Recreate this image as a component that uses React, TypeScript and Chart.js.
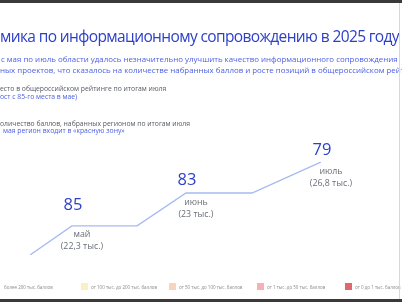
import React, { useEffect, useRef } from "react";
import { Chart, registerables } from "chart.js";

Chart.register(...registerables);

// ---- data ----
const months = ["май", "июнь", "июль"];
const ranks = [85, 83, 79];
const pointsThousands = ["22,3", "23", "26,8"];
// decorative stepped path (timeline position, level)
const stepX = [0, 14.4, 36.8, 53.6, 76.3, 100];
const stepY = [0, 0.94, 0.94, 2, 2, 3];
// which path vertex each month is anchored to
const monthAnchor = [1, 3, 5];

const legendLabels = [
  "более 200 тыс. баллов",
  "от 100 тыс. до 200 тыс. баллов",
  "от 50 тыс. до 100 тыс. баллов",
  "от 1 тыс. до 50 тыс. баллов",
  "от 0 до 1 тыс. баллов",
];
const legendColors = ["#ffffff", "#fbefc4", "#f8d4bf", "#f6b0b6", "#e1676f"];

const BLUE = "#2d40c9";
const BLUE2 = "#4b5ee2";
const GRAY = "#555a63";

const labelsPlugin = {
  id: "stepLabels",
  afterDatasetsDraw(chart: any) {
    const ctx = chart.ctx;
    const meta = chart.getDatasetMeta(0);
    const rankDy = [-21, -13, -12];
    ctx.save();
    ctx.textAlign = "center";
    ctx.textBaseline = "middle";
    months.forEach((m, i) => {
      const p = meta.data[monthAnchor[i]];
      ctx.fillStyle = BLUE;
      ctx.font = "16.5px 'Open Sans'";
      ctx.fillText(String(ranks[i]), p.x + 1, p.y + rankDy[i]);
      ctx.fillStyle = "#6b6f78";
      ctx.font = "8.8px 'Open Sans'";
      ctx.fillText(m, p.x + 10, p.y + 9);
      ctx.fillText("(" + pointsThousands[i] + " тыс.)", p.x + 10, p.y + 21);
    });
    ctx.restore();
  },
};

function ChartCanvas() {
  const ref = useRef<HTMLCanvasElement>(null);
  useEffect(() => {
    if (!ref.current) return;
    const chart = new Chart(ref.current, {
      type: "line",
      data: {
        datasets: [
          {
            data: stepX.map((x, i) => ({ x, y: stepY[i] })),
            borderColor: "#a6baf0",
            borderWidth: 1.3,
            pointRadius: 0,
            fill: false,
            tension: 0,
          },
        ],
      },
      options: {
        animation: false,
        responsive: false,
        layout: { padding: { left: 30, right: 81, top: 162, bottom: 47 } },
        plugins: { legend: { display: false }, tooltip: { enabled: false } },
        scales: {
          x: { type: "linear", min: 0, max: 100, display: false },
          y: { type: "linear", min: 0, max: 3, display: false },
        },
      },
      plugins: [labelsPlugin],
    });
    return () => chart.destroy();
  }, []);
  return (
    <canvas
      ref={ref}
      width={402}
      height={302}
      style={{ position: "absolute", left: 0, top: 0, width: 402, height: 302 }}
    />
  );
}

const txt = (
  left: number,
  top: number,
  size: number,
  color: string,
  text: string,
  extra: any = {}
) => (
  <div
    style={{
      position: "absolute",
      left,
      top,
      fontSize: size,
      lineHeight: 1,
      color,
      whiteSpace: "nowrap",
      fontFamily: "'Open Sans', sans-serif",
      ...extra,
    }}
  >
    {text}
  </div>
);

export default function App() {
  const legendX = [-6, 81, 169, 257, 345];
  return (
    <div
      style={{
        position: "fixed",
        left: 0,
        top: 0,
        width: 402,
        height: 302,
        overflow: "hidden",
        background: "#ffffff",
      }}
    >
      <ChartCanvas />
      {txt(0, 29, 15.5, BLUE, "мика по информационному сопровождению в 2025 году", { letterSpacing: -0.62 })}
      {txt(1, 56, 7.9, BLUE2, "с мая по июль области удалось незначительно улучшить качество информационного сопровождения")}
      {txt(0, 66.5, 7.9, BLUE2, "ных проектов, что сказалось на количестве набранных баллов и росте позиций в общероссийском рейтинге")}
      {txt(0, 86, 6.8, GRAY, "есто в общероссийском рейтинге по итогам июля")}
      {txt(0, 94, 6.8, BLUE2, "ост с 85-го места в мае)")}
      {txt(0, 121, 6.8, GRAY, "оличество баллов, набранных регионом по итогам июля")}
      {txt(3, 128, 6.8, BLUE2, "мая регион входит в «красную зону»")}
      {legendLabels.map((l, i) => (
        <React.Fragment key={i}>
          {i > 0 && (
            <div
              style={{
                position: "absolute",
                left: legendX[i],
                top: 283,
                width: 7,
                height: 7,
                background: legendColors[i],
              }}
            />
          )}
          {txt(legendX[i] + 10, 284.5, 4.5, "#8a8a8a", l)}
        </React.Fragment>
      ))}
      <div style={{ position: "absolute", left: 0, top: 0, width: 402, height: 3, background: "#3a3a3a" }} />
      <div style={{ position: "absolute", left: 0, top: 299, width: 402, height: 3, background: "#3a3a3a" }} />
      <div style={{ position: "absolute", left: 399, top: 3, width: 1, height: 296, background: "#d8d8d8" }} />
    </div>
  );
}
